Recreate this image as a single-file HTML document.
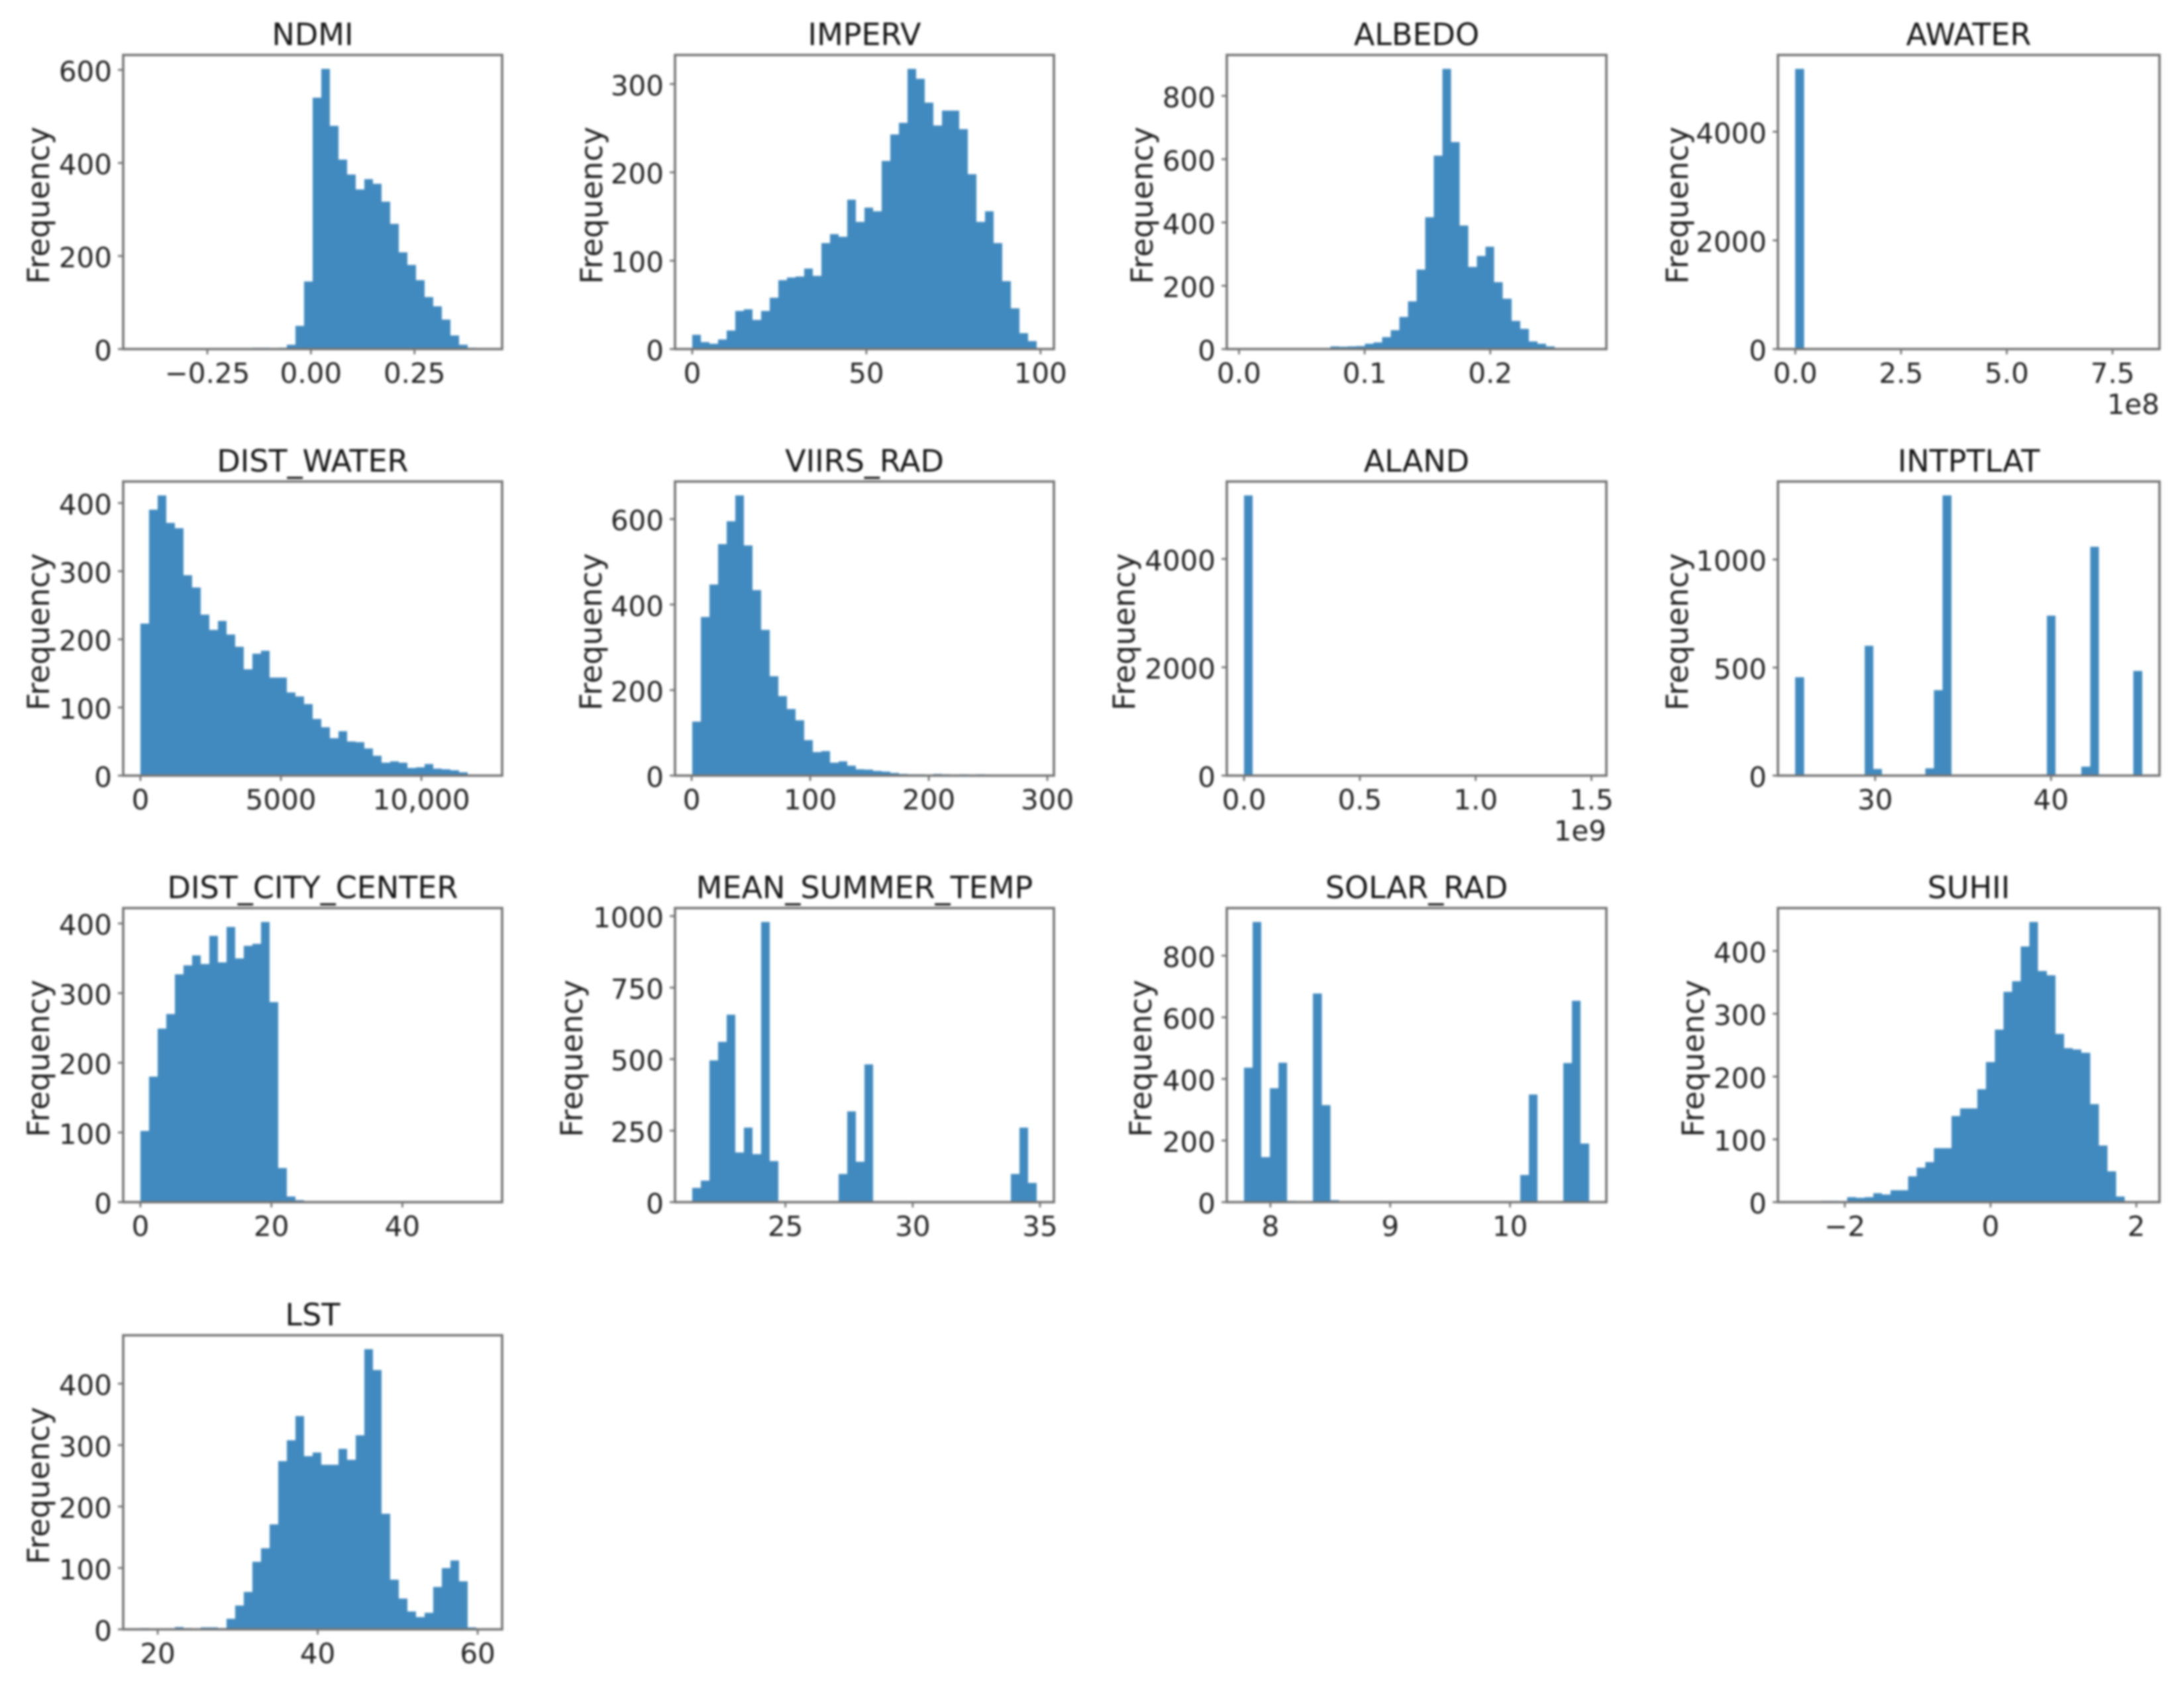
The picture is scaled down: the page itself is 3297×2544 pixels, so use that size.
<!DOCTYPE html>
<html lang="en">
<head>
<meta charset="utf-8">
<title>Feature histograms</title>
<style>
  html, body { margin: 0; padding: 0; background: #fff; }
  #figure { display: block; width: 3297px; height: 2544px; filter: blur(1.6px); font-family: "DejaVu Sans", "Liberation Sans", sans-serif; }
  .tick-text { font-size: 42px; fill: #222; }
  .axis-label { font-size: 46px; fill: #222; }
  .title-text { font-size: 46px; fill: #151515; }
</style>
</head>
<body>
<svg id="figure" xmlns="http://www.w3.org/2000/svg" width="3297" height="2544" viewBox="0 0 3297 2544"></svg>
<script>
const ndmiCounts = [0,1,0,0,0,0,0,0,1,0,0,0,1,3,3,1,3,9,50,145,540,602,480,407,375,343,365,355,317,269,208,181,148,112,92,63,29,9,3,1];
const ndmiRange = [-0.4116, 0.42];
const ndmiXTicks = [-0.25, 0, 0.25];
const ndmiXLabels = ["\u22120.25", "0.00", "0.25"];
const ndmiYTicks = [0, 200, 400, 600];

const impervCounts = [16,8,6,11,21,43,45,33,43,58,78,81,82,91,83,120,130,127,169,144,160,156,213,243,256,317,306,279,253,270,270,249,198,144,156,120,77,46,18,9];
const impervRange = [0, 98.9];
const impervXTicks = [0, 50, 100];
const impervXLabels = ["0", "50", "100"];
const impervYTicks = [0, 100, 200, 300];

const albedoCounts = [2,0,0,0,1,2,1,2,1,3,8,7,8,9,17,21,38,60,102,151,251,417,611,885,654,390,260,294,323,211,159,89,64,24,17,8,2,1,0,0];
const albedoRange = [0.004, 0.2787];
const albedoXTicks = [0, 0.1, 0.2];
const albedoXLabels = ["0.0", "0.1", "0.2"];
const albedoYTicks = [0, 200, 400, 600, 800];

const awaterCounts = [5155,0,0,0,0,0,0,0,0,0,0,0,0,0,0,0,0,0,0,0,0,0,0,0,0,0,0,0,0,0,0,0,0,0,0,0,0,0,0,0];
const awaterRange = [0, 8.2];
const awaterXTicks = [0, 2.5, 5, 7.5];
const awaterXLabels = ["0.0", "2.5", "5.0", "7.5"];
const awaterYTicks = [0, 2000, 4000];

const distWaterCounts = [223,390,411,371,363,294,276,236,214,227,207,189,156,179,183,144,144,122,116,105,83,71,55,65,50,49,40,29,19,21,19,11,12,17,10,9,8,5,1,1];
const distWaterRange = [0, 12260];
const distWaterXTicks = [0, 5000, 10000];
const distWaterXLabels = ["0", "5000", "10,000"];
const distWaterYTicks = [0, 100, 200, 300, 400];

const viirsCounts = [126,371,447,541,595,655,538,434,341,232,186,156,129,83,55,57,30,33,23,15,14,11,9,6,4,3,3,2,4,3,1,3,1,3,1,0,0,0,0,0];
const viirsRange = [0.5, 291];
const viirsXTicks = [0, 100, 200, 300];
const viirsXLabels = ["0", "100", "200", "300"];
const viirsYTicks = [0, 200, 400, 600];

const alandCounts = [5170,0,0,0,0,0,0,0,0,0,0,0,0,0,0,0,0,0,0,0,0,0,0,0,0,0,0,0,0,0,0,0,0,0,0,0,0,0,0,0];
const alandRange = [0, 1.49];
const alandXTicks = [0, 0.5, 1, 1.5];
const alandXLabels = ["0.0", "0.5", "1.0", "1.5"];
const alandYTicks = [0, 2000, 4000];

const intptlatCounts = [455,0,0,0,0,0,0,0,600,30,0,0,0,0,0,33,396,1296,0,0,0,0,0,0,0,0,0,0,0,740,0,0,0,42,1059,0,0,0,0,484];
const intptlatRange = [25.46, 45.18];
const intptlatXTicks = [30, 40];
const intptlatXLabels = ["30", "40"];
const intptlatYTicks = [0, 500, 1000];

const cityCounts = [102,180,249,270,327,340,354,342,382,344,395,350,368,371,402,287,49,8,3,1,1,0,0,0,1,0,1,1,1,0,0,0,0,0,0,0,0,0,0,1];
const cityRange = [0, 52.6];
const cityXTicks = [0, 20, 40];
const cityXLabels = ["0", "20", "40"];
const cityYTicks = [0, 100, 200, 300, 400];

const summerCounts = [50,75,496,560,655,174,260,168,979,143,0,0,0,0,0,0,0,98,317,141,482,0,0,0,0,0,0,0,0,0,0,0,0,0,0,0,0,98,260,67];
const summerRange = [21.34, 34.87];
const summerXTicks = [25, 30, 35];
const summerXLabels = ["25", "30", "35"];
const summerYTicks = [0, 250, 500, 750, 1000];

const solarCounts = [436,909,146,370,453,4,0,0,677,315,6,0,0,0,0,0,0,0,0,0,0,0,0,0,0,0,0,0,0,0,0,0,88,349,0,0,0,451,653,190];
const solarRange = [7.78, 10.66];
const solarXTicks = [8, 9, 10];
const solarXLabels = ["8", "9", "10"];
const solarYTicks = [0, 200, 400, 600, 800];

const suhiiCounts = [0,1,1,2,2,1,8,7,8,14,12,19,19,41,55,64,86,86,137,149,149,180,223,275,335,352,407,446,368,361,268,245,243,238,156,90,49,9,1,0];
const suhiiRange = [-2.68, 2.08];
const suhiiXTicks = [-2, 0, 2];
const suhiiXLabels = ["\u22122", "0", "2"];
const suhiiYTicks = [0, 100, 200, 300, 400];

const lstCounts = [2,1,0,0,4,2,0,3,3,2,17,39,61,110,132,171,274,308,347,282,288,268,268,294,276,316,456,422,188,81,50,29,20,27,69,100,112,78,3,1];
const lstRange = [17.84, 60.9];
const lstXTicks = [20, 40, 60];
const lstXLabels = ["20", "40", "60"];
const lstYTicks = [0, 100, 200, 300, 400];

const charts = [
  { title: "NDMI", counts: ndmiCounts, range: ndmiRange, xTicks: ndmiXTicks, xLabels: ndmiXLabels, yTicks: ndmiYTicks, offset: "" },
  { title: "IMPERV", counts: impervCounts, range: impervRange, xTicks: impervXTicks, xLabels: impervXLabels, yTicks: impervYTicks, offset: "" },
  { title: "ALBEDO", counts: albedoCounts, range: albedoRange, xTicks: albedoXTicks, xLabels: albedoXLabels, yTicks: albedoYTicks, offset: "" },
  { title: "AWATER", counts: awaterCounts, range: awaterRange, xTicks: awaterXTicks, xLabels: awaterXLabels, yTicks: awaterYTicks, offset: "1e8" },
  { title: "DIST_WATER", counts: distWaterCounts, range: distWaterRange, xTicks: distWaterXTicks, xLabels: distWaterXLabels, yTicks: distWaterYTicks, offset: "" },
  { title: "VIIRS_RAD", counts: viirsCounts, range: viirsRange, xTicks: viirsXTicks, xLabels: viirsXLabels, yTicks: viirsYTicks, offset: "" },
  { title: "ALAND", counts: alandCounts, range: alandRange, xTicks: alandXTicks, xLabels: alandXLabels, yTicks: alandYTicks, offset: "1e9" },
  { title: "INTPTLAT", counts: intptlatCounts, range: intptlatRange, xTicks: intptlatXTicks, xLabels: intptlatXLabels, yTicks: intptlatYTicks, offset: "" },
  { title: "DIST_CITY_CENTER", counts: cityCounts, range: cityRange, xTicks: cityXTicks, xLabels: cityXLabels, yTicks: cityYTicks, offset: "" },
  { title: "MEAN_SUMMER_TEMP", counts: summerCounts, range: summerRange, xTicks: summerXTicks, xLabels: summerXLabels, yTicks: summerYTicks, offset: "" },
  { title: "SOLAR_RAD", counts: solarCounts, range: solarRange, xTicks: solarXTicks, xLabels: solarXLabels, yTicks: solarYTicks, offset: "" },
  { title: "SUHII", counts: suhiiCounts, range: suhiiRange, xTicks: suhiiXTicks, xLabels: suhiiXLabels, yTicks: suhiiYTicks, offset: "" },
  { title: "LST", counts: lstCounts, range: lstRange, xTicks: lstXTicks, xLabels: lstXLabels, yTicks: lstYTicks, offset: "" }
];

const NS = "http://www.w3.org/2000/svg";
const svg = document.getElementById("figure");
const layout = {
  lefts: [186, 1019, 1852, 2684],
  widths: [572, 572, 573, 576],
  tops: [83, 727, 1371, 2016],
  height: 444,
  labelGaps: [[128, 126, 128, 152], [128, 127, 155, 152], [128, 156, 130, 128], [128, 0, 0, 0]]
};
const BAR_COLOR = "#418abf";
const LINE_COLOR = "#747474";

function make(tag, attrs, parent) {
  const el = document.createElementNS(NS, tag);
  Object.keys(attrs).forEach(function (k) { el.setAttribute(k, attrs[k]); });
  parent.appendChild(el);
  return el;
}

charts.forEach(function (chart, index) {
  const row = Math.floor(index / 4);
  const col = index % 4;
  const left = layout.lefts[col];
  const top = layout.tops[row];
  const w = layout.widths[col];
  const h = layout.height;
  const bottom = top + h;
  const slug = chart.title.toLowerCase().replace(/_/g, "-");

  const plotLeft = left + w * (0.05 / 1.1);
  const plotWidth = w / 1.1;
  const maxCount = Math.max.apply(null, chart.counts);
  const yMax = maxCount * 1.05;
  const xScale = function (v) {
    return plotLeft + (v - chart.range[0]) / (chart.range[1] - chart.range[0]) * plotWidth;
  };
  const yScale = function (v) {
    return bottom - v / yMax * h;
  };

  const g = make("g", {}, svg);
  
  

  const binWidth = (chart.range[1] - chart.range[0]) / chart.counts.length;
  chart.counts.forEach(function (count, i) {
    const x0 = xScale(chart.range[0] + i * binWidth);
    const x1 = xScale(chart.range[0] + (i + 1) * binWidth);
    const bar = make("rect", {
      x: x0, y: yScale(count), width: x1 - x0, height: bottom - yScale(count),
      fill: BAR_COLOR, "shape-rendering": "crispEdges"
    }, g);
    
    
  });

  const frame = make("rect", {
    x: left, y: top, width: w, height: h, fill: "none", stroke: LINE_COLOR, "stroke-width": 3.6
  }, g);
  
  

  chart.xTicks.forEach(function (v, i) {
    const x = xScale(v);
    const tick = make("line", { x1: x, x2: x, y1: bottom, y2: bottom + 8, stroke: LINE_COLOR, "stroke-width": 2.8 }, g);
    
    
    const label = make("text", { x: x, y: bottom + 51, "text-anchor": "middle", class: "tick-text" }, g);
    
    
    label.textContent = chart.xLabels[i];
  });

  chart.yTicks.forEach(function (v) {
    const y = yScale(v);
    const tick = make("line", { x1: left - 8, x2: left, y1: y, y2: y, stroke: LINE_COLOR, "stroke-width": 2.8 }, g);
    
    
    const label = make("text", { x: left - 17, y: y + 17, "text-anchor": "end", class: "tick-text" }, g);
    
    
    label.textContent = String(v);
  });

  const title = make("text", { x: left + w / 2, y: top - 15, "text-anchor": "middle", class: "title-text" }, g);
  
  
  title.textContent = chart.title;

  const labelX = left - layout.labelGaps[row][col];
  const labelY = top + h / 2 + 5;
  const yTitle = make("text", {
    x: labelX, y: labelY, "text-anchor": "middle", "dominant-baseline": "central",
    transform: "rotate(-90 " + labelX + " " + labelY + ")", class: "axis-label"
  }, g);
  
  
  yTitle.textContent = "Frequency";

  if (chart.offset) {
    const offsetText = make("text", { x: left + w, y: bottom + 98, "text-anchor": "end", class: "tick-text" }, g);
    
    
    offsetText.textContent = chart.offset;
  }
});
</script>
</body>
</html>
